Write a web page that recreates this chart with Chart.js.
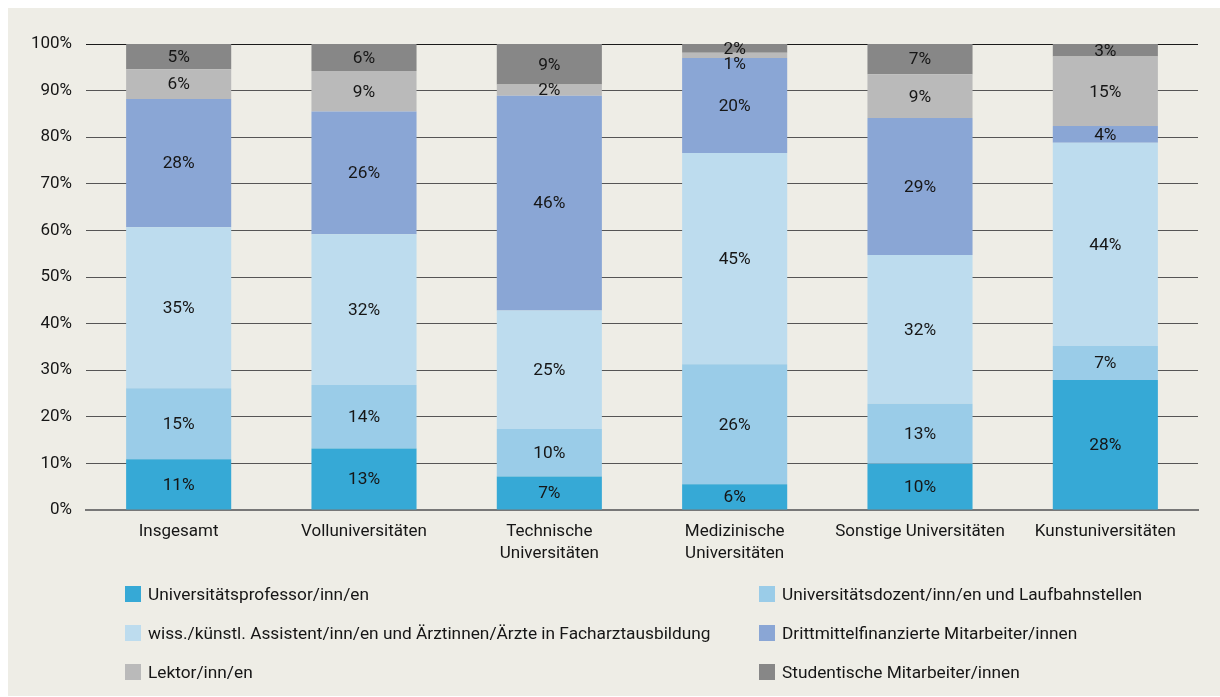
<!DOCTYPE html>
<html lang="de">
<head>
<meta charset="utf-8">
<title>Personal nach Universitätstyp</title>
<script src="https://cdn.jsdelivr.net/npm/chart.js@4.4.1/dist/chart.umd.min.js"></script>
<style>
    html, body { margin: 0; padding: 0; background: #ffffff; }
    body { width: 1220px; height: 697px; position: relative; overflow: hidden;
           font-family: Roboto, 'Liberation Sans', sans-serif; }
    #panel { position: absolute; left: 8px; top: 8px; width: 1212px; height: 688px; background: #eeede6; }
    #chart-wrap { position: absolute; left: 0; top: 0; width: 1220px; height: 560px; }
    #legend { position: absolute; left: 0; top: 0; width: 1220px; height: 697px; pointer-events: none; }
    .legend-item { position: absolute; display: flex; align-items: center; font-size: 17.3px; color: #161616; white-space: nowrap; }
    .legend-item .swatch { width: 16px; height: 16px; margin-right: 7px; flex: none; }
</style>
</head>
<body>
<div id="panel"></div>
<div id="chart-wrap"><canvas id="staff-chart" width="1220" height="560"></canvas></div>
<div id="legend"></div>

<script>
const categories = ['Insgesamt', 'Volluniversitäten', ['Technische', 'Universitäten'],
    ['Medizinische', 'Universitäten'], 'Sonstige Universitäten', 'Kunstuniversitäten'];

const seriesNames = [
    'Universitätsprofessor/inn/en',
    'Universitätsdozent/inn/en und Laufbahnstellen',
    'wiss./künstl. Assistent/inn/en und Ärztinnen/Ärzte in Facharztausbildung',
    'Drittmittelfinanzierte Mitarbeiter/innen',
    'Lektor/inn/en',
    'Studentische Mitarbeiter/innen'
];

// shares in % per category
const professoren   = [10.9, 13.2,  7.2,  5.5,  9.9, 27.9];
const dozenten      = [15.2, 13.6, 10.2, 25.8, 12.9,  7.3];
const assistenten   = [34.6, 32.4, 25.4, 45.3, 31.9, 43.6];
const drittmittel   = [27.5, 26.3, 46.1, 20.4, 29.4,  3.6];
const lektoren      = [ 6.4,  8.7,  2.4,  1.1,  9.4, 14.9];
const studentische  = [ 5.4,  5.8,  8.7,  1.9,  6.5,  2.7];

const yTicks = [0, 10, 20, 30, 40, 50, 60, 70, 80, 90, 100];

const colors = ['#36a9d6', '#9acce8', '#bddcee', '#8aa6d5', '#bababa', '#878787'];
const FONT = "Roboto, 'Liberation Sans', sans-serif";

const allSeries = [professoren, dozenten, assistenten, drittmittel, lektoren, studentische];

// value labels inside the segments, pushed down a bit when two small ones collide
const segmentLabels = {
    id: 'segmentLabels',
    afterDatasetsDraw(chart) {
        const ctx = chart.ctx;
        ctx.save();
        ctx.font = '17.3px ' + FONT;
        ctx.fillStyle = '#161616';
        ctx.textAlign = 'center';
        ctx.textBaseline = 'middle';
        categories.forEach((c, i) => {
            let prevY = -Infinity;
            for (let d = chart.data.datasets.length - 1; d >= 0; d--) {
                const bar = chart.getDatasetMeta(d).data[i];
                const value = chart.data.datasets[d].data[i];
                let y = (bar.y + bar.base) / 2;
                y = Math.max(y, prevY + 15);
                ctx.fillText(Math.round(value) + '%', bar.x, y + 1);
                prevY = y;
            }
        });
        ctx.restore();
    }
};

const ctx = document.getElementById('staff-chart').getContext('2d');
const staffChart = new Chart(ctx, {
    type: 'bar',
    data: {
        labels: categories,
        datasets: allSeries.map((values, k) => ({
            label: seriesNames[k],
            data: values,
            backgroundColor: colors[k],
            borderWidth: 0,
            categoryPercentage: 1,
            barPercentage: 0.567
        }))
    },
    options: {
        responsive: false,
        animation: false,
        layout: { padding: { left: 0, top: 44, right: 22, bottom: 0 } },
        plugins: {
            legend: { display: false },
            tooltip: { enabled: false }
        },
        scales: {
            x: {
                stacked: true,
                grid: { display: false, drawTicks: false },
                border: { display: true, color: '#777777', width: 2 },
                ticks: {
                    color: '#161616',
                    padding: 11,
                    font: { family: FONT, size: 17, lineHeight: 1.3 },
                    maxRotation: 0,
                    autoSkip: false
                },
                afterFit: scale => { scale.height = 50; }
            },
            y: {
                stacked: true,
                min: 0,
                max: 100,
                afterBuildTicks: scale => { scale.ticks = yTicks.map(v => ({ value: v })); },
                grid: {
                    drawTicks: false,
                    color: c => c.tick && c.tick.value === 100 ? '#1a1a1a' : '#555555',
                    lineWidth: 1
                },
                border: { display: false },
                ticks: {
                    color: '#161616',
                    padding: 14,
                    font: { family: FONT, size: 17 },
                    callback: v => v + '%'
                },
                afterFit: scale => { scale.width = 86; }
            }
        }
    },
    plugins: [segmentLabels]
});

// legend in two columns, same order as the datasets
const legendBox = document.getElementById('legend');
const legendCols = [125, 759];
const legendRows = [594, 633, 672];
seriesNames.forEach((name, k) => {
    const item = document.createElement('div');
    item.className = 'legend-item';
    item.style.left = legendCols[k % 2] + 'px';
    item.style.top = (legendRows[Math.floor(k / 2)] - 12) + 'px';
    item.style.height = '24px';
    item.innerHTML = `<span class="swatch" style="background:${colors[k]}"></span><span>${name}</span>`;
    legendBox.appendChild(item);
});
</script>
</body>
</html>
